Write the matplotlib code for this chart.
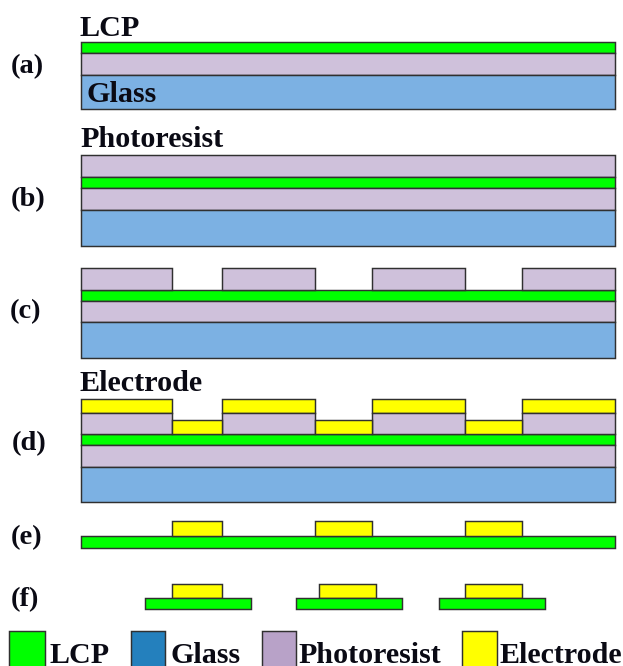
import matplotlib
matplotlib.use("Agg")
import matplotlib.pyplot as plt
from matplotlib.patches import Rectangle

GREEN = "#00ff00"; PURPLE = "#cfc1db"; BLUE = "#7cb1e3"; YELLOW = "#ffff00"
EDGE = "#303030"
LEFT, RIGHT = 81, 615
BLOCKS = [(81, 172), (222, 315), (372, 465), (522, 615)]
GAPS = [(172, 222), (315, 372), (465, 522)]
F_LCP = [(145, 251), (296, 402), (439, 545)]
F_ELEC = [(172, 222), (319, 376), (465, 522)]

# full-width layers: (colour, top, bottom)
full_layers = [
    (GREEN, 42, 53), (PURPLE, 53, 75), (BLUE, 75, 109),
    (PURPLE, 155, 177), (GREEN, 177, 188), (PURPLE, 188, 210), (BLUE, 210, 246),
    (GREEN, 290, 301), (PURPLE, 301, 322), (BLUE, 322, 358),
    (GREEN, 434, 445), (PURPLE, 445, 467), (BLUE, 467, 502),
    (GREEN, 536, 548),
]
# patterned layers: (colour, spans, top, bottom)
patterned = [
    (PURPLE, BLOCKS, 268, 290),
    (YELLOW, BLOCKS, 399, 413), (PURPLE, BLOCKS, 413, 434), (YELLOW, GAPS, 420, 434),
    (YELLOW, GAPS, 521, 536),
    (YELLOW, F_ELEC, 584, 598), (GREEN, F_LCP, 598, 609),
]
panel_labels = [("(a)", 11, 73), ("(b)", 11, 206), ("(c)", 10, 318), ("(d)", 12, 450), ("(e)", 11, 544), ("(f)", 11, 606)]
notes = [("LCP", 80, 36), ("Glass", 86, 102), ("Photoresist", 80, 147), ("Electrode", 80, 391)]
legend_boxes = [("#00ff00", 9, 45), ("#2480bd", 131, 165), ("#b8a2c8", 262, 296), ("#ffff00", 462, 497)]
legend_texts = [("LCP", 49), ("Glass", 170), ("Photoresist", 298), ("Electrode", 500)]

W, H = 623, 666
fig = plt.figure(figsize=(W / 100, H / 100), dpi=100)
ax = fig.add_axes([0, 0, 1, 1])
ax.set_xlim(0, W); ax.set_ylim(H, 0); ax.axis("off")

def box(x0, x1, top, bottom, color, lw=1.05):
    ax.add_patch(Rectangle((x0, top), x1 - x0, bottom - top, facecolor=color, edgecolor=EDGE, linewidth=lw, clip_on=False))

for c, t, b in full_layers:
    box(LEFT, RIGHT, t, b, c)
for c, spans, t, b in patterned:
    for x0, x1 in spans:
        box(x0, x1, t, b, c)
for c, x0, x1 in legend_boxes:
    box(x0, x1, 631, 668, c)

font = dict(family="Liberation Serif", fontweight="bold", color="#0a0a14", va="baseline", ha="left")
for s, x, y in panel_labels:
    ax.text(x, y, s, fontsize=20.5, **font)
for s, x, y in notes:
    ax.text(x, y, s, fontsize=21.7, **font)
for s, x in legend_texts:
    ax.text(x, 663, s, fontsize=21.6, **font)
fig.savefig("out.png", dpi=100)
